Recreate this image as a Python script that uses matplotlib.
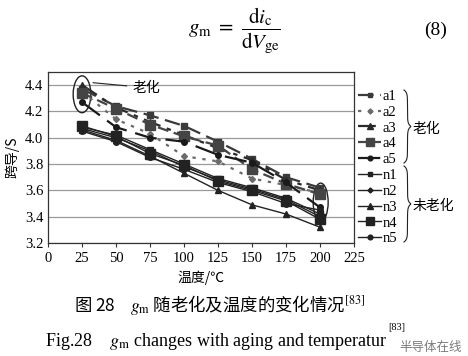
import numpy as np
import matplotlib.pyplot as plt
from matplotlib.patches import Ellipse
from matplotlib.lines import Line2D

plt.rcParams['font.family'] = ['Liberation Serif', 'Noto Sans CJK SC']
plt.rcParams['mathtext.fontset'] = 'stix'

# temperature (degC)
temp = [25, 50, 75, 100, 125, 150, 175, 200]

# aged devices
a1 = [4.37, 4.24, 4.17, 4.09, 3.97, 3.84, 3.70, 3.62]
a2 = [4.35, 4.14, 4.03, 3.86, 3.82, 3.69, 3.64, 3.58]
a3 = [4.40, 4.23, 4.12, 4.02, 3.92, 3.83, 3.68, 3.60]
a4 = [4.34, 4.22, 4.10, 4.01, 3.94, 3.76, 3.65, 3.57]
a5 = [4.27, 4.08, 4.00, 3.97, 3.87, 3.81, 3.66, 3.47]

# unaged devices
n1 = [4.08, 4.02, 3.91, 3.80, 3.69, 3.62, 3.54, 3.42]
n2 = [4.07, 4.00, 3.90, 3.78, 3.68, 3.61, 3.53, 3.40]
n3 = [4.06, 3.98, 3.86, 3.73, 3.60, 3.49, 3.42, 3.32]
n4 = [4.09, 4.01, 3.88, 3.79, 3.67, 3.60, 3.52, 3.38]
n5 = [4.05, 3.97, 3.85, 3.76, 3.66, 3.59, 3.50, 3.45]

aged = {'a1': a1, 'a2': a2, 'a3': a3, 'a4': a4, 'a5': a5}
unaged = {'n1': n1, 'n2': n2, 'n3': n3, 'n4': n4, 'n5': n5}

markers = ['s', 'D', '^', 's', 'o']
msizes = [4, 3, 4.5, 6.5, 4]
dashes = [(0, (7, 3)), (0, (1.5, 3)), (0, (8, 3, 2, 3)), (0, (5, 2.5)), (0, (10, 4))]
acol = ['#3a3a3a', '#6a6a6a', '#2a2a2a', '#444444', '#1a1a1a']

fig = plt.figure(figsize=(4.68, 3.56), dpi=100)
ax = fig.add_axes([0.1026, 0.3174, 0.6538, 0.4806])

handles = []
for i, (k, v) in enumerate(aged.items()):
    h, = ax.plot(temp, v, linestyle=dashes[i], color=acol[i], lw=1.6,
                 marker=markers[i], ms=msizes[i], mec=acol[i], mfc=acol[i], label=k)
    handles.append(h)
for i, (k, v) in enumerate(unaged.items()):
    h, = ax.plot(temp, v, linestyle='-', color='#222222', lw=1.0,
                 marker=markers[i], ms=msizes[i], mec='#222222', mfc='#222222', label=k)
    handles.append(h)

ax.set_xlim(0, 225)
ax.set_ylim(3.2, 4.5)
ax.set_xticks(np.arange(0, 226, 25))
ax.set_yticks(np.arange(3.2, 4.41, 0.2))
ax.set_yticklabels(['3.2', '3.4', '3.6', '3.8', '4.0', '4.2', '4.4'])
ax.yaxis.grid(True, color='#9a9a9a', lw=0.9)
ax.set_axisbelow(True)
ax.tick_params(labelsize=10.5, length=3, direction='out', color='#333333')
ax.tick_params(axis='y', length=0)
for s in ax.spines.values():
    s.set_color('#333333')
    s.set_linewidth(0.9)

ax.set_xlabel('温度/℃', fontsize=10, labelpad=4, family=['Noto Sans CJK SC'])
ax.set_ylabel('跨导/S', fontsize=10, labelpad=4, family=['Noto Sans CJK SC'])

# ellipses marking aged curves
ax.add_patch(Ellipse((25, 4.33), 13, 0.28, fill=False, ec='#222222', lw=1.0))
ax.add_patch(Ellipse((200.5, 3.51), 11, 0.29, fill=False, ec='#222222', lw=1.0))
ax.annotate('老化', xy=(31, 4.42), xytext=(62, 4.38), fontsize=10,
            family=['Noto Sans CJK SC'], va='center',
            arrowprops=dict(arrowstyle='-', color='#222222', lw=0.8))

leg = fig.legend(handles=handles, loc='upper left', bbox_to_anchor=(0.765, 0.748),
                 frameon=False, fontsize=10.5, handlelength=1.6, handletextpad=0.1,
                 labelspacing=0.18, borderpad=0, borderaxespad=0, markerscale=0.85)


def brace(x0, y0, y1, w):
    # right-facing curly brace in figure pixels
    y = np.linspace(y0, y1, 200)
    ym = (y0 + y1) / 2
    end = np.minimum(np.abs(y - y0), np.abs(y - y1))
    x = x0 + w * 0.5 * (1 - np.exp(-end / 2.5)) + w * 0.5 * np.exp(-np.abs(y - ym) / 2.5)
    fig.lines.append(Line2D(x / 468, 1 - y / 356, color='#222222', lw=0.8,
                            transform=fig.transFigure))


brace(404, 90, 163, 7)
brace(404, 166, 242, 7)
fig.text(413 / 468, 1 - 129 / 356, '老化', fontsize=10, va='center', family=['Noto Sans CJK SC'])
fig.text(413 / 468, 1 - 206 / 356, '未老化', fontsize=10, va='center', family=['Noto Sans CJK SC'])

# equation and captions
fig.text(0.50, 1 - 31 / 356, r'$g_{\rm m}\ =\ \dfrac{{\rm d}i_{\rm c}}{{\rm d}V_{\rm ge}}$',
         fontsize=15, ha='center', va='center')
fig.text(0.93, 1 - 30 / 356, '(8)', fontsize=14, ha='center', va='center')
fig.text(0.47, 1 - 305 / 356, r'图 28    $g_{\rm m}$ 随老化及温度的变化情况$^{[83]}$', fontsize=12.5,
         ha='center', va='center', family=['Noto Sans CJK SC', 'DejaVu Sans'])
fig.text(45 / 468, 1 - 341 / 356, r'Fig.28    $g_{\rm m}$ changes with aging and temperatur',
         fontsize=13, ha='left', va='center')
fig.text(388 / 468, 1 - 327 / 356, '[83]', fontsize=7.5, ha='left', va='center')
fig.text(462 / 468, 1 - 348 / 356, '半导体在线', fontsize=9, ha='right', va='center',
         color='#7a7a7a', family=['Noto Sans CJK SC'])

fig.savefig('out.png', dpi=100)
